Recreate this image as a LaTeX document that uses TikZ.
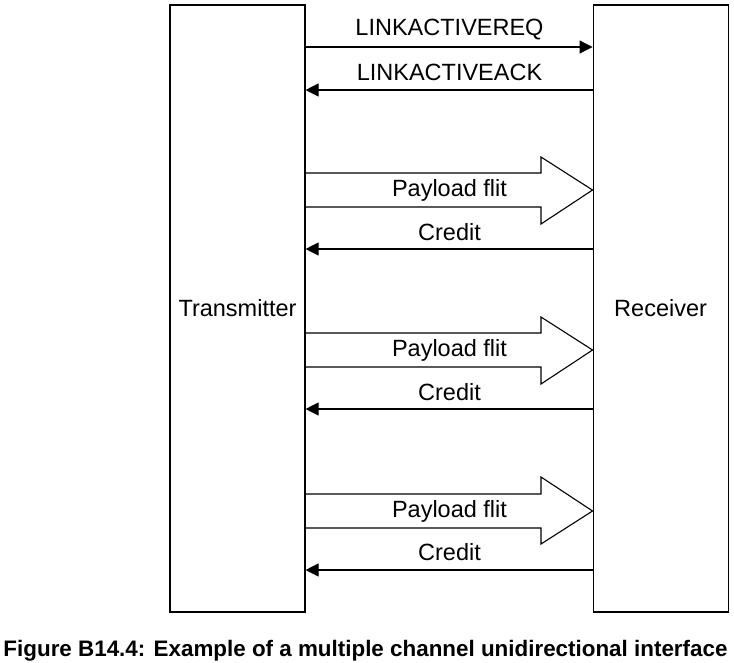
\documentclass[tikz,border=0pt]{standalone}
\usepackage{fontspec}
\setmainfont{Liberation Sans}
\usetikzlibrary{positioning}
\usetikzlibrary{arrows.meta}
\tikzset{
	unit/.style={draw, line width=1.1pt, minimum width=135, minimum height=607, inner sep=0pt},
	sig/.style={line width=1.1pt, -{Triangle[length=13pt,width=13pt]}},
	fat/.style={line width=1.1pt, line join=miter},
	lbl/.style={inner sep=0pt, font=\fontsize{23.5}{28}\selectfont}
}

\begin{document}
\begin{tikzpicture}[x=1pt,y=-1pt]
		\useasboundingbox (0,0) rectangle (734,662);
		\node[unit, lbl] (tx) at (237.5,308.5) {Transmitter};
		\node[unit, lbl, right=287pt of tx] (rx) {Receiver};
		%
		\draw[sig] (tx.east |- 0,47) -- (rx.west |- 0,47);
		\node[lbl] (req) at (449.5,30) {LINKACTIVEREQ};
		\draw[sig] (rx.west |- 0,90) -- (tx.east |- 0,90);
		\node[lbl] (ack) at (449.5,72) {LINKACTIVEACK};
		%
		\draw[fat] (tx.east |- 0,173) -- (541,173) -- (541,157) -- (rx.west |- 0,190) -- (541,224) -- (541,207) -- (tx.east |- 0,207);
		\node[lbl] (flit1) at (449.5,190) {Payload flit};
		\draw[sig] (rx.west |- 0,249) -- (tx.east |- 0,249);
		\node[lbl] (cred1) at (449.5,232) {Credit};
		%
		\draw[fat] (tx.east |- 0,333) -- (541,333) -- (541,317) -- (rx.west |- 0,350) -- (541,384) -- (541,367) -- (tx.east |- 0,367);
		\node[lbl] (flit2) at (449.5,350) {Payload flit};
		\draw[sig] (rx.west |- 0,409) -- (tx.east |- 0,409);
		\node[lbl] (cred2) at (449.5,392) {Credit};
		%
		\draw[fat] (tx.east |- 0,494) -- (541,494) -- (541,477) -- (rx.west |- 0,511) -- (541,544) -- (541,528) -- (tx.east |- 0,528);
		\node[lbl] (flit3) at (449.5,511) {Payload flit};
		\draw[sig] (rx.west |- 0,570) -- (tx.east |- 0,570);
		\node[lbl] (cred3) at (449.5,552) {Credit};
		%
		\node[inner sep=0pt, anchor=base, font=\bfseries\fontsize{22.4}{27}\selectfont] (cap) at (365.5,656) {Figure B14.4: Example of a multiple channel unidirectional interface};
	\end{tikzpicture}
\end{document}
